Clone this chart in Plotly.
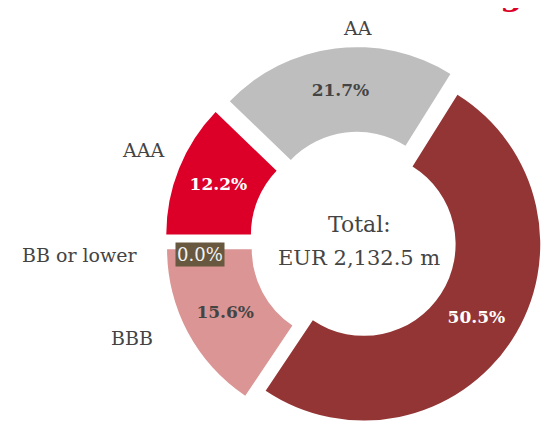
import plotly.graph_objects as go

# ---- data ----
categories = ["AAA", "AA", "A", "BBB", "BB or lower"]
shares = [12.2, 21.7, 50.5, 15.6, 0.0]
pct_labels = ["12.2%", "21.7%", "50.5%", "15.6%", ""]
zero_label = "0.0%"
colors = ["#DC0028", "#BEBEBE", "#943535", "#DA9594", "#67583F"]
text_colors = ["#FFFFFF", "#444444", "#FFFFFF", "#444444", "#FFFFFF"]
pulls = [0.1, 0.1, 0.033, 0.1, 0.0]
total_title = "Total:"
total_value = "EUR 2,132.5 m"
heading = "Rating"

W, H = 560, 427
FONT = "DejaVu Serif"
GREY = "#444444"

# pie placement (pixels)
cx, cy, half = 351, 233, 194

fig = go.Figure()
fig.add_trace(go.Pie(
    labels=categories,
    values=shares,
    text=pct_labels,
    textinfo="text",
    textposition="inside",
    insidetextorientation="horizontal",
    textfont=dict(family=FONT, size=17, color=text_colors, weight="bold"),
    sort=False,
    direction="clockwise",
    rotation=270,
    hole=0.52,
    pull=pulls,
    marker=dict(colors=colors, line=dict(width=0)),
    hoverinfo="skip",
    showlegend=False,
    domain=dict(x=[(cx - half) / W, (cx + half) / W],
                y=[(H - cy - half) / H, (H - cy + half) / H]),
))


def px(x, y):
    return x / W, 1 - y / H


annotations = []
label_pos = {
    "AA": (349, 20, "center"),
    "AAA": (135, 142, "center"),
    "BB or lower": (72, 247, "center"),
    "BBB": (124, 330, "center"),
    "A": (548, 335, "left"),
}
for name in categories:
    x, y, anchor = label_pos[name]
    ax, ay = px(x, y)
    annotations.append(dict(x=ax, y=ay, xref="paper", yref="paper", text=name,
                            showarrow=False, xanchor=anchor, yanchor="middle",
                            font=dict(family=FONT, size=19, color=GREY)))

zx, zy = px(192, 246)
annotations.append(dict(x=zx, y=zy, xref="paper", yref="paper", text=zero_label,
                        showarrow=False, xanchor="center", yanchor="middle",
                        bgcolor=colors[4], borderpad=1,
                        font=dict(family=FONT, size=18, color="#F2F2F2")))

tx, ty = px(351, 216)
annotations.append(dict(x=tx, y=ty, xref="paper", yref="paper", text=total_title,
                        showarrow=False, xanchor="center", yanchor="middle",
                        font=dict(family=FONT, size=22, color=GREY)))
tx, ty = px(351, 250)
annotations.append(dict(x=tx, y=ty, xref="paper", yref="paper", text=total_value,
                        showarrow=False, xanchor="center", yanchor="middle",
                        font=dict(family=FONT, size=21, color=GREY)))

hx, hy = px(517, 7)
annotations.append(dict(x=hx, y=hy, xref="paper", yref="paper", text=heading,
                        showarrow=False, xanchor="right", yanchor="bottom",
                        font=dict(family=FONT, size=32, color="#DC0028", weight="bold")))

fig.update_layout(
    width=W, height=H,
    margin=dict(l=0, r=0, t=0, b=0),
    paper_bgcolor="white",
    plot_bgcolor="white",
    annotations=annotations,
)

fig.write_html("out.html")
